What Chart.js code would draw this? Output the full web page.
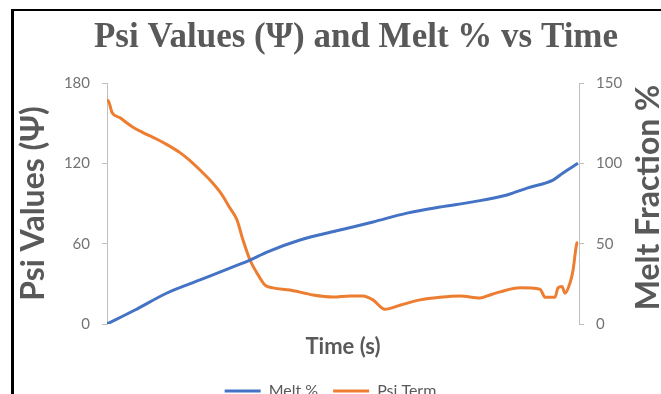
<!DOCTYPE html>
<html>
<head>
<meta charset="utf-8">
<script src="https://cdn.jsdelivr.net/npm/chart.js"></script>
<style>
html, body { margin: 0; padding: 0; background: #fff; overflow: hidden; }
#cadre { position: absolute; left: 11px; top: 9px; width: 660px; height: 400px; border-left: 3px solid #000; border-top: 2px solid #000; }
#boite { position: absolute; left: 0; top: 0; width: 661px; height: 409px; }
</style>
</head>
<body>
<div id="cadre"></div>
<div id="boite"><canvas id="grafico"></canvas></div>
<script>
// Psi Term (eixo esquerdo)
const tempoPsi = [0, 10, 50, 130, 260, 360, 500, 600, 730, 830, 930, 1030, 1130, 1230, 1300, 1360, 1430, 1500, 1580, 1660, 1830, 2060, 2260, 2430, 2560, 2660, 2780, 2930, 3130, 3330, 3530, 3730, 3830, 3930, 4130, 4330, 4380, 4480, 4510, 4550, 4580, 4630, 4660, 4700, 4710];
const valoresPsi = [165.8, 167, 158, 154, 147, 143, 138, 134, 128, 122, 115, 107.5, 98.6, 86.6, 77.7, 62.7, 47.8, 38, 29, 27, 25.4, 21.7, 20.2, 21, 21, 18, 11, 14, 18, 20, 21, 19.4, 21.7, 24, 27, 26, 20, 20, 27, 28, 23, 30.6, 40, 60.5, 61];

// Melt % (eixo direito)
const tempoMelt = [0, 280, 600, 930, 1260, 1430, 1600, 1930, 2330, 2660, 3000, 3330, 3660, 4000, 4200, 4460, 4560, 4710];
const valoresMelt = [0, 8.7, 19.3, 27.4, 35.5, 39.8, 44.8, 52.3, 58.5, 63.5, 69, 72.8, 76, 80.3, 84.6, 89.6, 94, 100];

const ticksPsi = [0, 60, 120, 180];
const ticksMelt = [0, 50, 100, 150];

const cinza = '#595959';
const cinzaTicks = '#737373';
const cinzaEixo = '#bfbfbf';
const fonte = 'Lato';

function pontos(xs, ys) {
    return xs.map(function (t, i) { return { x: t, y: ys[i] }; });
}

// titulo principal e titulo do eixo direito (lido de baixo para cima)
const titulos = {
    id: 'titulos',
    afterDraw(chart) {
        const ctx = chart.ctx;
        const area = chart.chartArea;
        ctx.save();
        ctx.fillStyle = cinza;
        ctx.textAlign = 'center';
        ctx.textBaseline = 'middle';
        ctx.font = 'bold 35px "Liberation Serif"';
        ctx.fillText('Psi Values (Ψ) and Melt % vs Time', 356, 38);
        ctx.translate(chart.scales.y1.left + 70, (area.top + area.bottom) / 2 - 6);
        ctx.rotate(-Math.PI / 2);
        ctx.font = 'bold 32px ' + fonte;
        ctx.fillText('Melt Fraction %', 0, 0);
        ctx.restore();
    }
};

const grafico = document.getElementById('grafico');
new Chart(grafico, {
    type: 'line',
    data: {
        datasets: [
            {
                label: 'Melt %',
                data: pontos(tempoMelt, valoresMelt),
                yAxisID: 'y1',
                borderColor: '#4472C4',
                backgroundColor: '#4472C4',
                borderWidth: 3,
                pointRadius: 0,
                cubicInterpolationMode: 'monotone'
            },
            {
                label: 'Psi Term',
                data: pontos(tempoPsi, valoresPsi),
                yAxisID: 'y',
                borderColor: '#ED7D31',
                backgroundColor: '#ED7D31',
                borderWidth: 3,
                pointRadius: 0,
                cubicInterpolationMode: 'monotone'
            }
        ]
    },
    options: {
        responsive: true,
        maintainAspectRatio: false,
        animation: false,
        layout: { padding: { top: 83, left: 0, right: 0, bottom: 0 } },
        plugins: {
            title: { display: false },
            legend: {
                position: 'bottom',
                labels: {
                    boxWidth: 36,
                    boxHeight: 0,
                    color: cinza,
                    padding: 15,
                    font: { family: fonte, size: 16 }
                }
            },
            tooltip: { enabled: false }
        },
        scales: {
            x: {
                type: 'linear',
                min: 0,
                max: 4720,
                ticks: { display: false },
                grid: { display: false },
                border: { display: false },
                title: {
                    display: true,
                    text: 'Time (s)',
                    color: cinza,
                    font: { family: fonte, size: 22, weight: 'bold' },
                    padding: { top: 0, bottom: 7.8 }
                },
                afterFit: function (escala) { escala.height = 44; }
            },
            y: {
                position: 'left',
                min: 0,
                max: 180,
                afterBuildTicks: function (escala) { escala.ticks = ticksPsi.map(function (v) { return { value: v }; }); },
                ticks: { color: cinzaTicks, padding: 12, font: { family: fonte, size: 15 } },
                grid: { drawOnChartArea: false, tickLength: 5, color: cinzaEixo },
                border: { color: cinzaEixo },
                title: {
                    display: true,
                    text: 'Psi Values (Ψ)',
                    color: cinza,
                    font: { family: fonte, size: 32, weight: 'bold' },
                    padding: { top: 14.8, bottom: 0 }
                },
                afterFit: function (escala) { escala.width = 107; }
            },
            y1: {
                position: 'right',
                min: 0,
                max: 150,
                afterBuildTicks: function (escala) { escala.ticks = ticksMelt.map(function (v) { return { value: v }; }); },
                ticks: { color: cinzaTicks, padding: 12, font: { family: fonte, size: 15 } },
                grid: { drawOnChartArea: false, tickLength: 5, color: cinzaEixo },
                border: { color: cinzaEixo },
                afterFit: function (escala) { escala.width = 82; }
            }
        }
    },
    plugins: [titulos]
});
</script>
</body>
</html>
